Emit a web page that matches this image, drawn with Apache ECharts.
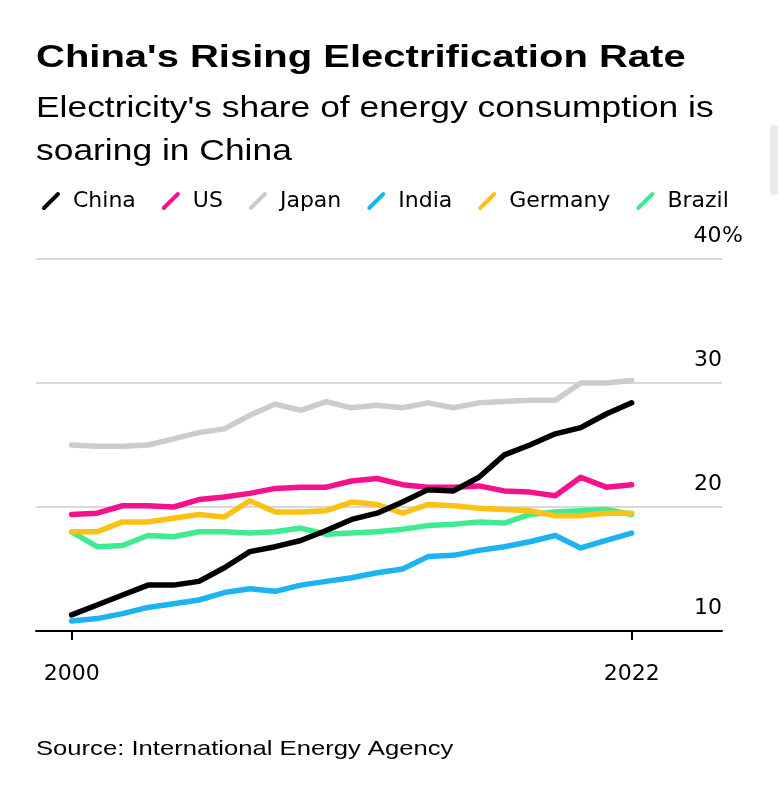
<!DOCTYPE html>
<html>
<head>
<meta charset="utf-8">
<script src="https://cdn.jsdelivr.net/npm/echarts@6/dist/echarts.min.js"></script>
<style>html,body{margin:0;padding:0;background:#fff;}#c{width:780px;height:800px;}</style>
</head>
<body>
<div id="c"></div>
<script>
const years = [2000,2001,2002,2003,2004,2005,2006,2007,2008,2009,2010,2011,2012,2013,2014,2015,2016,2017,2018,2019,2020,2021,2022];
const china   = [11.3,12.1,12.9,13.7,13.7,14.0,15.1,16.4,16.8,17.3,18.1,19.0,19.5,20.4,21.4,21.3,22.4,24.2,25.0,25.9,26.4,27.5,28.4];
const us      = [19.4,19.5,20.1,20.1,20.0,20.6,20.8,21.1,21.5,21.6,21.6,22.1,22.3,21.8,21.6,21.6,21.7,21.3,21.2,20.9,22.4,21.6,21.8];
const japan   = [25.0,24.9,24.9,25.0,25.5,26.0,26.3,27.4,28.3,27.8,28.5,28.0,28.2,28.0,28.4,28.0,28.4,28.5,28.6,28.6,30.0,30.0,30.2];
const india   = [10.8,11.0,11.4,11.9,12.2,12.5,13.1,13.4,13.2,13.7,14.0,14.3,14.7,15.0,16.0,16.1,16.5,16.8,17.2,17.7,16.7,17.3,17.9];
const germany = [18.0,18.0,18.8,18.8,19.1,19.4,19.2,20.5,19.6,19.6,19.7,20.4,20.2,19.5,20.2,20.1,19.9,19.8,19.7,19.3,19.3,19.5,19.5];
const brazil  = [18.0,16.8,16.9,17.7,17.6,18.0,18.0,17.9,18.0,18.3,17.8,17.9,18.0,18.2,18.5,18.6,18.8,18.7,19.4,19.6,19.7,19.8,19.4];
const xTickLabels = [2000, 2022];
const yTicks = [10, 20, 30, 40];

const FONT = '"Liberation Sans", Arial, Helvetica, sans-serif';
const WFONT = '"DejaVu Sans", "Liberation Sans", sans-serif';
const colors = {China:'#000000', US:'#f5118e', Japan:'#cccccc', India:'#1db2f2', Germany:'#fdc114', Brazil:'#3feb91'};
const slash = 'path://M0.644,16.244 L16.244,0.644 A2.2,2.2 0 0 1 19.356,3.756 L3.756,19.356 A2.2,2.2 0 0 1 0.644,16.244 Z';

function mk(name, vals, z){
  return {
    name: name, type: 'line', z: z,
    data: years.map((y,i)=>[y, vals[i]]),
    showSymbol: false, symbol: 'none',
    lineStyle: {color: colors[name], width: 5.5, cap: 'round', join: 'round'},
    itemStyle: {color: colors[name]},
    emphasis: {disabled: true},
    animation: false
  };
}

const chart = echarts.init(document.getElementById('c'), null, {renderer:'canvas'});
chart.setOption({
  animation: false,
  backgroundColor: '#ffffff',
  legend: {
    left: 37, top: 185, itemWidth: 18, itemHeight: 18, itemGap: 26,
    icon: slash,
    data: ['China','US','Japan','India','Germany','Brazil'],
    itemStyle: {borderWidth: 0},
    textStyle: {fontFamily: WFONT, fontSize: 22, color: '#000', padding: [0,0,0,8]},
    selectedMode: false
  },
  grid: {left: 36, right: 58, top: 259, bottom: 169, containLabel: false},
  xAxis: {
    type: 'value', min: 1998.6, max: 2025.55,
    axisLine: {show: true, lineStyle: {color: '#000', width: 2}},
    axisTick: {show: true, customValues: xTickLabels, length: 9, lineStyle: {color: '#000', width: 2}},
    axisLabel: {show: true, customValues: xTickLabels, margin: 32, fontFamily: WFONT, fontSize: 22, color: '#000',
                formatter: v => String(v)},
    splitLine: {show: false}
  },
  yAxis: {
    type: 'value', position: 'right', min: 10, max: 40, interval: 10,
    axisLine: {show: false}, axisTick: {show: false},
    splitLine: {show: true, lineStyle: {color: '#d9d9d9', width: 2}},
    axisLabel: {
      inside: true, margin: 29, align: 'left', verticalAlign: 'bottom', padding: [0,0,11,0],
      fontFamily: WFONT, fontSize: 22, color: '#000', lineHeight: 24,
      formatter: v => (v === 40 ? '{n|40}%' : '{n|' + v + '}'),
      rich: {n: {width: 29, align: 'right', fontFamily: WFONT, fontSize: 22, color: '#000', lineHeight: 24}}
    }
  },
  graphic: [
    {type: 'text', x: 36, y: 42, scaleX: 1.25, silent: true,
     style: {text: "China's Rising Electrification Rate", font: 'bold 32px ' + FONT, fill: '#000', verticalAlign: 'top', align: 'left'}},
    {type: 'text', x: 36, y: 87, scaleX: 1.18, silent: true,
     style: {text: "Electricity's share of energy consumption is\nsoaring in China", font: '30px ' + FONT, lineHeight: 43, fill: '#000', verticalAlign: 'top', align: 'left'}},
    {type: 'text', x: 36, y: 739, scaleX: 1.22, silent: true,
     style: {text: "Source: International Energy Agency", font: '21px ' + FONT, fill: '#000', verticalAlign: 'top', align: 'left'}},
    {type: 'rect', x: 770, y: 125, shape: {width: 8, height: 70, r: 3}, style: {fill: '#ececec'}, silent: true}
  ],
  series: [
    mk('Japan', japan, 2),
    mk('Brazil', brazil, 3),
    mk('Germany', germany, 4),
    mk('India', india, 5),
    mk('US', us, 6),
    mk('China', china, 7)
  ]
});
</script>
</body>
</html>
